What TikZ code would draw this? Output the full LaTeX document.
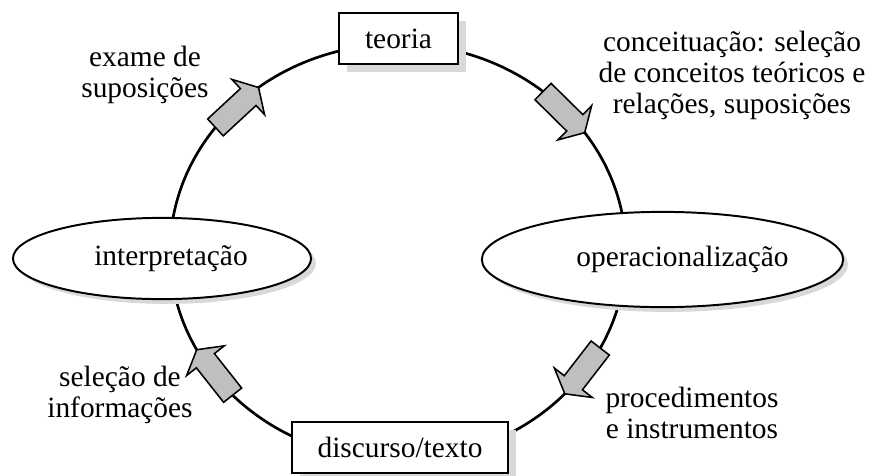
\documentclass[tikz,border=0pt]{standalone}
\usepackage{fontspec}
\setmainfont{Liberation Serif}
\usetikzlibrary{shapes.geometric,shadows}

\begin{document}
\begin{tikzpicture}[x=0.025cm, y=-0.025cm,
    every node/.style={font=\fontsize{20.9}{22}\selectfont},
    caixa/.style={draw, line width=1.4pt, fill=white, inner xsep=0.65cm, minimum height=1.28cm,
      drop shadow={shadow xshift=0.2cm, shadow yshift=-0.2cm, fill=gray!30, opacity=1}},
    elipse/.style={draw, ellipse, line width=1.4pt, fill=white, inner sep=0pt,
      drop shadow={shadow xshift=0.12cm, shadow yshift=-0.12cm, fill=gray!30, opacity=1}},
    rotulo/.style={align=center},
    seta/.style={draw, fill=gray!50, line width=1.1pt, line join=miter}]
  \useasboundingbox (0,0) rectangle (872,475);
  % o ciclo
  \draw[line width=1.9pt] (398,252) ellipse [x radius=228, y radius=208];
  % setas grossas sobre o ciclo (ângulos de saída/chegada)
  \foreach \ta/\tb in {216.8/232.3, -50.5/-35, 27.5/43, 136.5/152} {
    \pgfmathsetmacro\xa{398+228*cos(\ta)}
    \pgfmathsetmacro\ya{252+208*sin(\ta)}
    \pgfmathsetmacro\xb{398+228*cos(\tb)}
    \pgfmathsetmacro\yb{252+208*sin(\tb)}
    \pgfmathsetmacro\ang{atan2(\yb-\ya,\xb-\xa)}
    \pgfmathsetmacro\len{veclen(\xb-\xa,\yb-\ya)}
    \draw[seta, shift={(\xa,\ya)}, rotate=-\ang] (0,-11.5) -- ({\len-14},-11.5) -- ({\len-14},-24)
      -- (\len,0) -- ({\len-14},24) -- ({\len-14},11.5) -- (0,11.5) -- cycle;
  }
  \node[caixa] (teoria) at (398.5,38.5) {teoria};
  \node[caixa] (discurso) at (400,447.5) {discurso/texto};
  \node[elipse, minimum width=7.45cm, minimum height=2.03cm] (interp) at (162,258.5) {\hspace*{0.45cm}interpretação};
  \node[elipse, minimum width=9.03cm, minimum height=2.38cm] (oper) at (662.5,259.5) {\hspace*{1cm}operacionalização};
  % rótulos das setas
  \node[rotulo] (exame) at (145,75) {exame de\\suposições};
  \node[rotulo] (conceit) at (732,75) {conceituação: seleção\\de conceitos teóricos e\\relações, suposições};
  \node[rotulo] (proced) at (692,413) {procedimentos\\e instrumentos};
  \node[rotulo] (selecao) at (120,395) {seleção de\\informações};
\end{tikzpicture}
\end{document}
